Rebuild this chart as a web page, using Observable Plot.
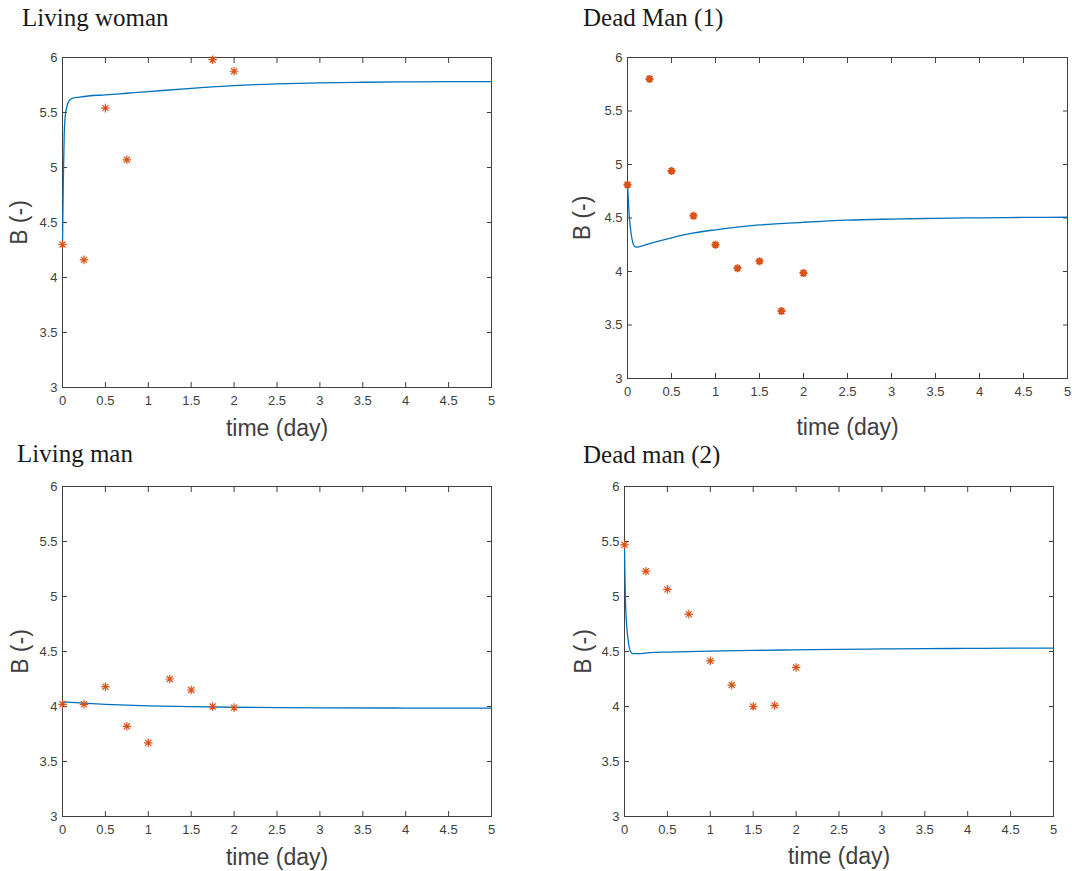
<!DOCTYPE html>
<html>
<head>
<meta charset="utf-8">
<script src="https://cdn.jsdelivr.net/npm/d3@7"></script>
<script src="https://cdn.jsdelivr.net/npm/@observablehq/plot@0.6"></script>
<style>
  html, body { margin: 0; padding: 0; background: #fff; }
  #wrap { position: relative; width: 1072px; height: 871px; background: #fff; overflow: hidden; }
  .panel { position: absolute; }
  .title { position: absolute; font-family: "Liberation Serif", "Times New Roman", serif; font-size: 25px; line-height: 25px; color: #1a1a1a; white-space: nowrap; }
</style>
</head>
<body>
<div id="wrap"></div>
<script>
// ---------- data ----------
const xTicks = [0, 0.5, 1, 1.5, 2, 2.5, 3, 3.5, 4, 4.5, 5];
const yTicks = [3, 3.5, 4, 4.5, 5, 5.5, 6];
const xLabel = "time (day)";
const yLabel = "B (-)";
const titles = ["Living woman", "Dead Man (1)", "Living man", "Dead man (2)"];

// Living woman
const womanObsT = [0, 0.25, 0.5, 0.75, 1.75, 2];
const womanObsB = [4.30, 4.16, 5.54, 5.07, 5.98, 5.875];
const womanFitT = [0, 0.01, 0.02, 0.03, 0.05, 0.08, 0.12, 0.2, 0.3, 0.5, 0.75, 1, 1.5, 2, 2.5, 3, 3.5, 4, 4.5, 5];
const womanFitB = [4.30, 4.90, 5.30, 5.45, 5.55, 5.61, 5.63, 5.64, 5.65, 5.66, 5.675, 5.69, 5.72, 5.745, 5.76, 5.77, 5.775, 5.778, 5.78, 5.78];

// Dead Man (1)
const dead1ObsT = [0, 0.25, 0.5, 0.75, 1, 1.25, 1.5, 1.75, 2];
const dead1ObsB = [4.81, 5.80, 4.94, 4.52, 4.25, 4.03, 4.095, 3.63, 3.985];
const dead1FitT = [0, 0.01, 0.02, 0.04, 0.06, 0.08, 0.1, 0.15, 0.25, 0.5, 0.75, 1, 1.25, 1.5, 2, 2.5, 3, 3.5, 4, 4.5, 5];
const dead1FitB = [4.82, 4.66, 4.52, 4.36, 4.27, 4.235, 4.228, 4.235, 4.26, 4.315, 4.36, 4.39, 4.415, 4.435, 4.46, 4.48, 4.49, 4.497, 4.502, 4.505, 4.507];

// Living man
const manObsT = [0, 0.25, 0.5, 0.75, 1, 1.25, 1.5, 1.75, 2];
const manObsB = [4.02, 4.02, 4.18, 3.82, 3.67, 4.25, 4.15, 4.00, 3.99];
const manFitT = [0, 0.25, 0.5, 0.75, 1, 1.5, 2, 2.5, 3, 4, 5];
const manFitB = [4.042, 4.03, 4.02, 4.012, 4.006, 3.998, 3.993, 3.99, 3.988, 3.986, 3.985];

// Dead man (2)
const dead2ObsT = [0, 0.25, 0.5, 0.75, 1, 1.25, 1.5, 1.75, 2];
const dead2ObsB = [5.47, 5.23, 5.065, 4.84, 4.415, 4.195, 4.00, 4.01, 4.355];
const dead2FitT = [0, 0.005, 0.01, 0.02, 0.04, 0.06, 0.08, 0.1, 0.15, 0.3, 0.5, 1, 1.5, 2, 2.5, 3, 3.5, 4, 4.5, 5];
const dead2FitB = [5.47, 5.20, 5.00, 4.80, 4.62, 4.52, 4.49, 4.48, 4.48, 4.49, 4.495, 4.503, 4.51, 4.515, 4.52, 4.523, 4.526, 4.528, 4.53, 4.53];

// ---------- drawing ----------
const lineColor = "#0072BD";
const markColor = "#D95319";
const axisColor = "#404040";

const star8 = {
  draw(ctx, size) {
    const r = Math.sqrt(size / Math.PI);
    const d = r * Math.SQRT1_2;
    ctx.moveTo(-r, 0); ctx.lineTo(r, 0);
    ctx.moveTo(0, -r); ctx.lineTo(0, r);
    ctx.moveTo(-d, -d); ctx.lineTo(d, d);
    ctx.moveTo(-d, d); ctx.lineTo(d, -d);
  }
};

const zip = (T, B) => T.map((t, i) => ({t, b: B[i]}));

function panel(cfg) {
  const obs = zip(cfg.obsT, cfg.obsB);
  const fit = zip(cfg.fitT, cfg.fitB);
  const markerMarks = cfg.bold
    ? [
        Plot.dot(obs, {x: "t", y: "b", r: 2.6, fill: markColor, stroke: "none"}),
        Plot.dot(obs, {x: "t", y: "b", r: 4, symbol: star8, fill: "none", stroke: markColor, strokeWidth: 2})
      ]
    : [
        Plot.dot(obs, {x: "t", y: "b", r: 4.3, symbol: star8, fill: "none", stroke: markColor, strokeWidth: 1.2})
      ];
  return Plot.plot({
    width: cfg.width,
    height: cfg.height,
    marginLeft: cfg.ml,
    marginRight: cfg.mr,
    marginTop: cfg.mt,
    marginBottom: cfg.mb,
    x: {domain: [0, 5], label: null},
    y: {domain: [3, 6], label: null},
    style: {
      fontFamily: "'Liberation Sans', Arial, Helvetica, sans-serif",
      fontSize: "13px",
      color: axisColor,
      background: "transparent",
      overflow: "visible"
    },
    marks: [
      Plot.frame({stroke: axisColor, strokeWidth: 1}),
      // inward ticks on all four sides
      Plot.axisX(xTicks, {anchor: "bottom", tickSize: 5, dy: -5, tickFormat: () => "", label: null, stroke: axisColor}),
      Plot.axisX(xTicks, {anchor: "top", tickSize: 5, dy: 5, tickFormat: () => "", label: null, stroke: axisColor}),
      Plot.axisY(yTicks, {anchor: "left", tickSize: 5, dx: 5, tickFormat: () => "", label: null, stroke: axisColor}),
      Plot.axisY(yTicks, {anchor: "right", tickSize: 5, dx: -5, tickFormat: () => "", label: null, stroke: axisColor}),
      // tick labels
      Plot.axisX(xTicks, {anchor: "bottom", tickSize: 0, tickPadding: 8, tickFormat: d => String(d), label: null, fill: axisColor}),
      Plot.axisY(yTicks, {anchor: "left", tickSize: 0, tickPadding: 5, tickFormat: d => String(d), label: null, fill: axisColor}),
      // axis titles
      Plot.text([xLabel], {text: d => d, frameAnchor: "bottom", dy: cfg.xdy, fontSize: 23, lineAnchor: "middle", textAnchor: "middle", fill: axisColor}),
      Plot.text([yLabel], {text: d => d, frameAnchor: "left", dx: cfg.ydx, rotate: -90, fontSize: 23, lineAnchor: "middle", textAnchor: "middle", fill: axisColor}),
      // data
      Plot.line(fit, {x: "t", y: "b", stroke: lineColor, strokeWidth: 1.3, curve: "monotone-x"}),
      ...markerMarks
    ]
  });
}

const wrap = document.getElementById("wrap");
const panels = [
  {left: 0, top: 0, width: 536, height: 440, ml: 62, mr: 45, mt: 57, mb: 53, xdy: 41, ydx: -42.5,
   obsT: womanObsT, obsB: womanObsB, fitT: womanFitT, fitB: womanFitB, bold: false,
   title: titles[0], tl: 22, tt: 5},
  {left: 540, top: 0, width: 532, height: 440, ml: 87, mr: 5, mt: 57, mb: 62, xdy: 49.5, ydx: -45,
   obsT: dead1ObsT, obsB: dead1ObsB, fitT: dead1FitT, fitB: dead1FitB, bold: true,
   title: titles[1], tl: 583, tt: 5},
  {left: 0, top: 430, width: 536, height: 441, ml: 62, mr: 45, mt: 56, mb: 55, xdy: 41, ydx: -42,
   obsT: manObsT, obsB: manObsB, fitT: manFitT, fitB: manFitB, bold: false,
   title: titles[2], tl: 17, tt: 441},
  {left: 540, top: 430, width: 532, height: 441, ml: 84, mr: 19, mt: 56, mb: 55, xdy: 40, ydx: -41,
   obsT: dead2ObsT, obsB: dead2ObsB, fitT: dead2FitT, fitB: dead2FitB, bold: false,
   title: titles[3], tl: 583, tt: 442}
];

for (const p of panels) {
  const holder = document.createElement("div");
  holder.className = "panel";
  holder.style.left = p.left + "px";
  holder.style.top = p.top + "px";
  holder.appendChild(panel(p));
  wrap.appendChild(holder);
}
for (const p of panels) {
  const t = document.createElement("div");
  t.className = "title";
  t.style.left = p.tl + "px";
  t.style.top = p.tt + "px";
  t.textContent = p.title;
  wrap.appendChild(t);
}
</script>
</body>
</html>
